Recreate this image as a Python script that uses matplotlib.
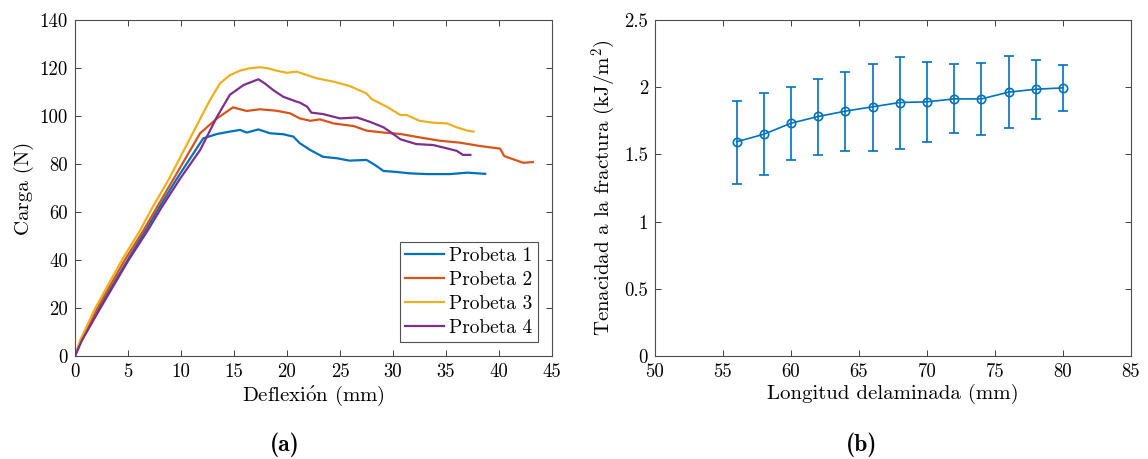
import numpy as np
import matplotlib
matplotlib.use('Agg')
import matplotlib.pyplot as plt
from matplotlib.ticker import FuncFormatter

plt.rcParams['font.family'] = ['cmr10', 'DejaVu Serif']
plt.rcParams['mathtext.fontset'] = 'cm'
plt.rcParams['axes.unicode_minus'] = False

# --- (a) curvas carga-deflexion ---
p1_x = [0, 0.6, 2.2, 4.9, 7.86, 9.6, 12.1, 13.4, 14.6, 15.57, 16.2, 17.3, 18.4, 19.65, 20.6,
        21.2, 22.2, 23.4, 24.7, 25.9, 27.5, 28.3, 29.1, 30.3, 31.6, 33.2, 35.4, 37.0, 38.7]
p1_y = [0, 6.5, 19.5, 39.5, 61.3, 73.8, 90.7, 92.5, 93.5, 94.2, 93.1, 94.4, 92.8, 92.4, 91.4,
        88.7, 85.8, 83.0, 82.4, 81.4, 81.7, 79.6, 77.1, 76.7, 76.1, 75.8, 75.8, 76.4, 75.9]

p2_x = [0, 0.55, 2.1, 4.7, 6.48, 7.64, 9.3, 11.8, 13.4, 14.9, 16.2, 17.45, 19.0, 20.3, 21.2,
        22.2, 23.1, 24.4, 26.3, 27.5, 29.1, 30.7, 32.5, 34.4, 36.3, 38.2, 40.1, 40.5, 41.7,
        42.3, 43.2]
p2_y = [0, 6.5, 20, 40, 52.5, 61.3, 73.8, 92.8, 99.0, 103.6, 102.1, 102.8, 102.2, 101.1, 99.0,
        98.0, 98.6, 96.9, 95.8, 93.9, 93.1, 92.5, 91.1, 89.7, 88.9, 87.5, 86.4, 83.3, 81.4,
        80.5, 80.8]

p3_x = [0, 0.5, 1.92, 4.43, 6.16, 7.23, 8.87, 12.74, 13.68, 14.6, 15.57, 16.5, 17.45, 18.2,
        19.0, 20.0, 20.9, 22.8, 24.4, 25.9, 27.5, 28.0, 29.4, 30.7, 31.3, 32.5, 33.8, 35.1,
        36.0, 37.0, 37.6]
p3_y = [0, 6.7, 20, 40, 52.5, 61.3, 73.8, 106.7, 113.6, 117.0, 118.9, 119.9, 120.3, 119.9,
        118.9, 118.0, 118.5, 115.7, 114.3, 112.5, 109.4, 107.0, 103.9, 100.4, 100.4, 98.0, 97.2,
        96.9, 95.3, 93.9, 93.5]

p4_x = [0, 0.65, 2.4, 5.06, 6.89, 8.08, 9.9, 11.8, 13.4, 14.6, 15.9, 17.3, 17.9, 18.7, 19.65,
        20.9, 21.2, 21.9, 22.3, 23.4, 25.0, 26.6, 27.8, 29.1, 29.7, 30.7, 32.2, 33.8, 35.1,
        36.0, 36.6, 37.3]
p4_y = [0, 6.5, 20, 40, 52.5, 61.3, 73.8, 85.8, 99.7, 108.8, 112.9, 115.3, 113.6, 110.8, 108.0,
        106.0, 105.6, 103.9, 101.4, 100.8, 99.0, 99.4, 97.6, 95.3, 93.5, 90.3, 88.3, 87.9, 86.5,
        85.5, 83.8, 83.8]

series = [(p1_x, p1_y, 'Probeta 1'), (p2_x, p2_y, 'Probeta 2'),
          (p3_x, p3_y, 'Probeta 3'), (p4_x, p4_y, 'Probeta 4')]
colors = ['#0072BD', '#D95319', '#EDB120', '#7E2F8E']

# --- (b) tenacidad a la fractura ---
longitud = [56, 58, 60, 62, 64, 66, 68, 70, 72, 74, 76, 78, 80]
tenacidad = [1.594, 1.650, 1.732, 1.782, 1.822, 1.854, 1.886, 1.891, 1.913, 1.913, 1.963, 1.985, 1.995]
sup = [1.898, 1.955, 2.000, 2.059, 2.111, 2.173, 2.223, 2.191, 2.171, 2.178, 2.230, 2.206, 2.166]
inf = [1.281, 1.346, 1.457, 1.499, 1.524, 1.527, 1.541, 1.589, 1.656, 1.648, 1.695, 1.760, 1.822]

W, H = 1148, 459
fig = plt.figure(figsize=(W / 100, H / 100), dpi=100)
ax1 = fig.add_axes([75 / W, 1 - 356 / H, 477 / W, 336 / H])
ax2 = fig.add_axes([655 / W, 1 - 356 / H, 476 / W, 336 / H])

fs_tick = 13.5
fs_lab = 15
for ax in (ax1, ax2):
    ax.tick_params(direction='in', top=True, right=True, length=4, width=0.7,
                   color='0.25', labelsize=fs_tick, pad=5)
    for s in ax.spines.values():
        s.set_color('0.3')
        s.set_linewidth(0.8)

for (x, y, lab), c in zip(series, colors):
    ax1.plot(x, y, color=c, lw=1.6, label=lab)
ax1.set_xlim(0, 45)
ax1.set_ylim(0, 140)
ax1.set_xticks(np.arange(0, 46, 5))
ax1.set_yticks(np.arange(0, 141, 20))
ax1.set_xlabel(r'Deflexi$\acute{\rm o}$n (mm)', fontsize=fs_lab, labelpad=2)
ax1.set_ylabel('Carga (N)', fontsize=fs_lab, labelpad=4)
leg = ax1.legend(loc='lower right', fontsize=14, frameon=True, fancybox=False,
                 edgecolor='0.15', handlelength=2.0, handletextpad=0.25,
                 labelspacing=0.3, borderpad=0.3, borderaxespad=0.7)
leg.get_frame().set_linewidth(0.8)

t = np.array(tenacidad)
yerr = [t - np.array(inf), np.array(sup) - t]
ax2.errorbar(longitud, tenacidad, yerr=yerr, color='#0072BD', lw=1.2, marker='o',
             ms=6, mfc='none', mew=1.2, capsize=3.5, capthick=1.2, elinewidth=1.2)
ax2.set_xlim(50, 85)
ax2.set_ylim(0, 2.5)
ax2.set_xticks(np.arange(50, 86, 5))
ax2.set_yticks(np.arange(0, 2.51, 0.5))
ax2.yaxis.set_major_formatter(FuncFormatter(lambda v, p: '%g' % v))
ax2.set_xlabel('Longitud delaminada (mm)', fontsize=fs_lab, labelpad=2)
ax2.set_ylabel(r'Tenacidad a la fractura (kJ/m$^2$)', fontsize=fs_lab, labelpad=4)

fig.text(285 / W, 1 - 445 / H, '(a)', family='cmb10', fontsize=17, ha='center', va='center')
fig.text(862 / W, 1 - 445 / H, '(b)', family='cmb10', fontsize=17, ha='center', va='center')

fig.savefig('out.png', dpi=100, facecolor='white')
